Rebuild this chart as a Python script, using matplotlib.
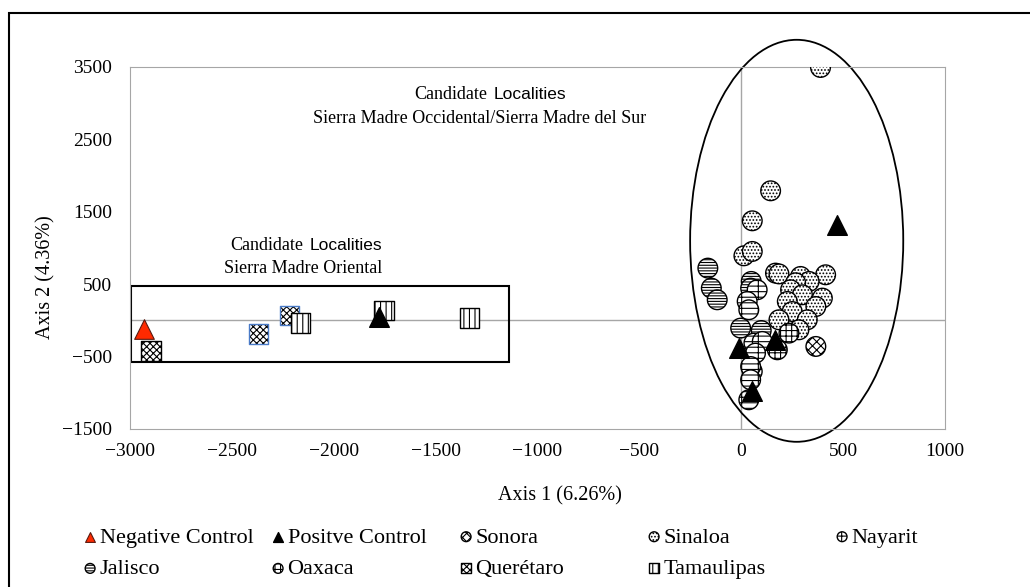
import matplotlib.pyplot as plt
from matplotlib.patches import Ellipse, Rectangle

plt.rcParams['font.family'] = ['Liberation Serif', 'DejaVu Serif']
plt.rcParams['hatch.linewidth'] = 0.8

# PCoA scores
neg_x = [-2930]
neg_y = [-120]
pos_x = [-1780, 471, -12, 168, 54]
pos_y = [52, 1318, -384, -269, -982]
sonora_x = [366]
sonora_y = [-361]
sinaloa_x = [389, 144, 54, 13, 54, 168, 185, 291, 414, 333, 267, 242, 300, 398, 226, 366, 250, 324, 185, 283]
sinaloa_y = [3489, 1787, 1373, 890, 950, 651, 640, 605, 628, 536, 518, 421, 352, 306, 260, 190, 121, 7, 7, -131]
nayarit_x = [78, 29, 37, 62, 103, 70, 54, 46, 46, 37]
nayarit_y = [421, 260, 145, -315, -292, -453, -706, -638, -821, -1097]
jalisco_x = [-164, -147, -118, 49, 46, -3, 98]
jalisco_y = [720, 444, 283, 536, 444, -108, -141]
oaxaca_x = [234, 177]
oaxaca_y = [-177, -407]
queretaro_x = [-2898, -2369, -2217]
queretaro_y = [-421, -190, 66]
queretaro_edge = ['black', '#4a7bc8', '#4a7bc8']
tamaulipas_x = [-2164, -1752, -1333]
tamaulipas_y = [-39, 135, 30]

fig = plt.figure(figsize=(10.3, 5.87), dpi=100)
ax = fig.add_axes([0.1262, 0.2692, 0.7913, 0.6172])

s = 200
sc_sin = ax.scatter(sinaloa_x, sinaloa_y, s=s, marker='o', facecolor='white',
                    edgecolor='black', linewidth=1, hatch='.....', zorder=3, label='Sinaloa')
sc_jal = ax.scatter(jalisco_x, jalisco_y, s=s, marker='o', facecolor='white',
                    edgecolor='black', linewidth=1, hatch='------', zorder=4, label='Jalisco')
sc_nay = ax.scatter(nayarit_x, nayarit_y, s=s, marker='o', facecolor='white',
                    edgecolor='black', linewidth=1, hatch='---|', zorder=4, label='Nayarit')
sc_oax = ax.scatter(oaxaca_x, oaxaca_y, s=s, marker='o', facecolor='white',
                    edgecolor='black', linewidth=1, hatch='+++', zorder=4, label='Oaxaca')
sc_son = ax.scatter(sonora_x, sonora_y, s=s, marker='o', facecolor='white',
                    edgecolor='black', linewidth=1, hatch='xxxx', zorder=4, label='Sonora')
sc_que = ax.scatter(queretaro_x, queretaro_y, s=s, marker='s', facecolor='white',
                    edgecolor=queretaro_edge, linewidth=1, hatch='xxxxx', zorder=4, label='Querétaro')
sc_tam = ax.scatter(tamaulipas_x, tamaulipas_y, s=s, marker='s', facecolor='white',
                    edgecolor='black', linewidth=1, hatch='|||', zorder=4, label='Tamaulipas')
sc_neg = ax.scatter(neg_x, neg_y, s=s, marker='^', facecolor='#ff2a00',
                    edgecolor='#5a1a10', linewidth=0.8, zorder=6, label='Negative Control')
sc_pos = ax.scatter(pos_x, pos_y, s=s, marker='^', facecolor='black',
                    edgecolor='black', zorder=6, label='Positve Control')

ax.set_xlim(-3000, 1000)
ax.set_ylim(-1500, 3500)
ax.set_xticks(range(-3000, 1001, 500))
ax.set_yticks(range(-1500, 3501, 1000))
ax.tick_params(length=0, labelsize=14)
ax.tick_params(axis='y', pad=13)
ax.tick_params(axis='x', pad=10)
for sp in ax.spines.values():
    sp.set_color('#a6a6a6')
ax.axhline(0, color='#a6a6a6', lw=1, zorder=1)
ax.axvline(0, color='#a6a6a6', lw=1, zorder=1)

ax.set_xlabel('Axis 1 (6.26%)', fontsize=14.5)
ax.xaxis.set_label_coords(0.527, -0.158)
ax.set_ylabel('Axis 2 (4.36%)', fontsize=14.5)
ax.yaxis.set_label_coords(-0.091, 0.42)

# group outlines
ax.add_patch(Rectangle((-2995, -582), 1857, 1058, fill=False, lw=1.5,
                       edgecolor='black', zorder=2))
ax.add_patch(Ellipse((272, 1097), 1046, 5548, fill=False, lw=1.3,
                     edgecolor='black', zorder=2, clip_on=False))

ax.text(-1245, 3110, 'Candidate', ha='right', va='center', fontsize=13)
ax.text(-1216, 3110, 'Localities', ha='left', va='center', fontsize=12.5,
        family='Liberation Sans')
ax.text(-1285, 2790, 'Sierra Madre Occidental/Sierra Madre del Sur',
        ha='center', va='center', fontsize=13)
ax.text(-2150, 1028, 'Candidate', ha='right', va='center', fontsize=13)
ax.text(-2120, 1028, 'Localities', ha='left', va='center', fontsize=12.5,
        family='Liberation Sans')
ax.text(-2150, 711, 'Sierra Madre Oriental', ha='center', va='center', fontsize=13)

# outer frame (only top and left edges inside the picture)
fig.add_artist(Rectangle((9 / 1030, -0.1), 1.2, 1 - 13 / 587 + 0.1,
                         transform=fig.transFigure, fill=False, lw=1.5,
                         edgecolor='black', clip_on=False))

# legend laid out in five columns
columns = [([sc_neg, sc_jal], 84), ([sc_pos, sc_oax], 272), ([sc_son, sc_que], 460),
           ([sc_sin, sc_tam], 648), ([sc_nay], 836)]
for handles, xpx in columns:
    fig.legend(handles=handles, loc='upper left', bbox_to_anchor=(xpx / 1030, 1 - 527 / 587),
               frameon=False, fontsize=16, markerscale=0.5, handlelength=0.55,
               handletextpad=0.15, borderpad=0, borderaxespad=0, labelspacing=0.5)

fig.savefig('out.png', dpi=100, facecolor='white')
